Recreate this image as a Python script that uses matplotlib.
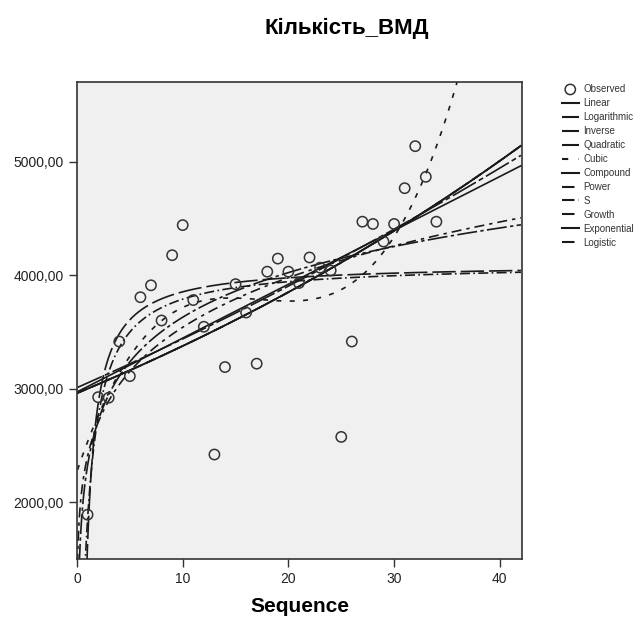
import numpy as np
import matplotlib
matplotlib.use('Agg')
import matplotlib.pyplot as plt

plt.rcParams['font.family'] = ['Liberation Sans', 'DejaVu Sans']

seq = np.arange(1, 35)
vmd = np.array([1890, 2925, 2920, 3415, 3110, 3805, 3910, 3600, 4175, 4440,
                3780, 3545, 2420, 3190, 3920, 3670, 3220, 4030, 4145, 4030,
                3930, 4155, 4065, 4040, 2575, 3415, 4470, 4450, 4295, 4450,
                4765, 5135, 4865, 4470])

title = 'Кількість_ВМД'
yticks = [2000, 3000, 4000, 5000]
xticks = [0, 10, 20, 30, 40]

# curve estimation models (fitted to the observed data)
t = np.linspace(0.05, 42, 2000)
lny = np.log(vmd)

b = np.polyfit(seq, vmd, 1)
linear = np.polyval(b, t)
b = np.polyfit(np.log(seq), vmd, 1)
logarithmic = np.polyval(b, np.log(t))
b = np.polyfit(1.0 / seq, vmd, 1)
inverse = np.polyval(b, 1.0 / t)
b = np.polyfit(seq, vmd, 2)
quadratic = np.polyval(b, t)
b = np.polyfit(seq, vmd, 3)
cubic = np.polyval(b, t)
b = np.polyfit(seq, lny, 1)
compound = np.exp(np.polyval(b, t))
growth = compound
exponential = compound
logistic = compound
b = np.polyfit(np.log(seq), lny, 1)
power = np.exp(np.polyval(b, np.log(t)))
b = np.polyfit(1.0 / seq, lny, 1)
s_curve = np.exp(np.polyval(b, 1.0 / t))

fig = plt.figure(figsize=(6.43, 6.23), dpi=100)
ax = fig.add_axes([77 / 643, 1 - 559 / 623, 445 / 643, 477 / 623])
ax.set_facecolor('#f0f0f0')

c = '#1a1a1a'
handles = []
handles.append(ax.scatter(seq, vmd, s=55, facecolors='none', edgecolors='#333333',
                          linewidths=1.1, label='Observed', zorder=5))
curves = [
    ('Linear', linear, '-'),
    ('Logarithmic', logarithmic, (0, (12, 2, 2, 2))),
    ('Inverse', inverse, (0, (14, 3))),
    ('Quadratic', quadratic, (0, (16, 2, 3, 2))),
    ('Cubic', cubic, (0, (3, 5))),
    ('Compound', compound, '-'),
    ('Power', power, (0, (6, 3, 2, 3))),
    ('S', s_curve, (0, (6, 2, 1, 2))),
    ('Growth', growth, (0, (6, 3))),
    ('Exponential', exponential, '-'),
    ('Logistic', logistic, (0, (6, 4, 1, 4))),
]
for name, yv, ls in curves:
    ln, = ax.plot(t, yv, color=c, linestyle=ls, linewidth=1.2, label=name)
    handles.append(ln)

ax.set_xlim(0, 42.1)
ax.set_ylim(1500, 5700)
ax.set_xticks(xticks)
ax.set_yticks(yticks)
ax.set_yticklabels(['{:d},00'.format(v) for v in yticks])
ax.tick_params(direction='out', length=6, width=1, colors='#333333', labelsize=10,
               labelcolor='#222222')
for sp in ax.spines.values():
    sp.set_color('#333333')
    sp.set_linewidth(1.2)

ax.set_xlabel('Sequence', fontsize=15, fontweight='bold', labelpad=8)
fig.text(347 / 643, 1 - 28 / 623, title, fontsize=16, fontweight='bold',
         ha='center', va='center')

leg = fig.legend(handles=handles, loc='upper left', bbox_to_anchor=(562 / 643, 1 - 84 / 623),
                 frameon=False, fontsize=7, handlelength=1.7, handletextpad=0.5,
                 labelspacing=0.41, borderpad=0, borderaxespad=0)
for text in leg.get_texts():
    text.set_color('#333333')
for h in leg.legend_handles[1:]:
    h.set_linewidth(1.5)

fig.savefig('out.png', dpi=100)
